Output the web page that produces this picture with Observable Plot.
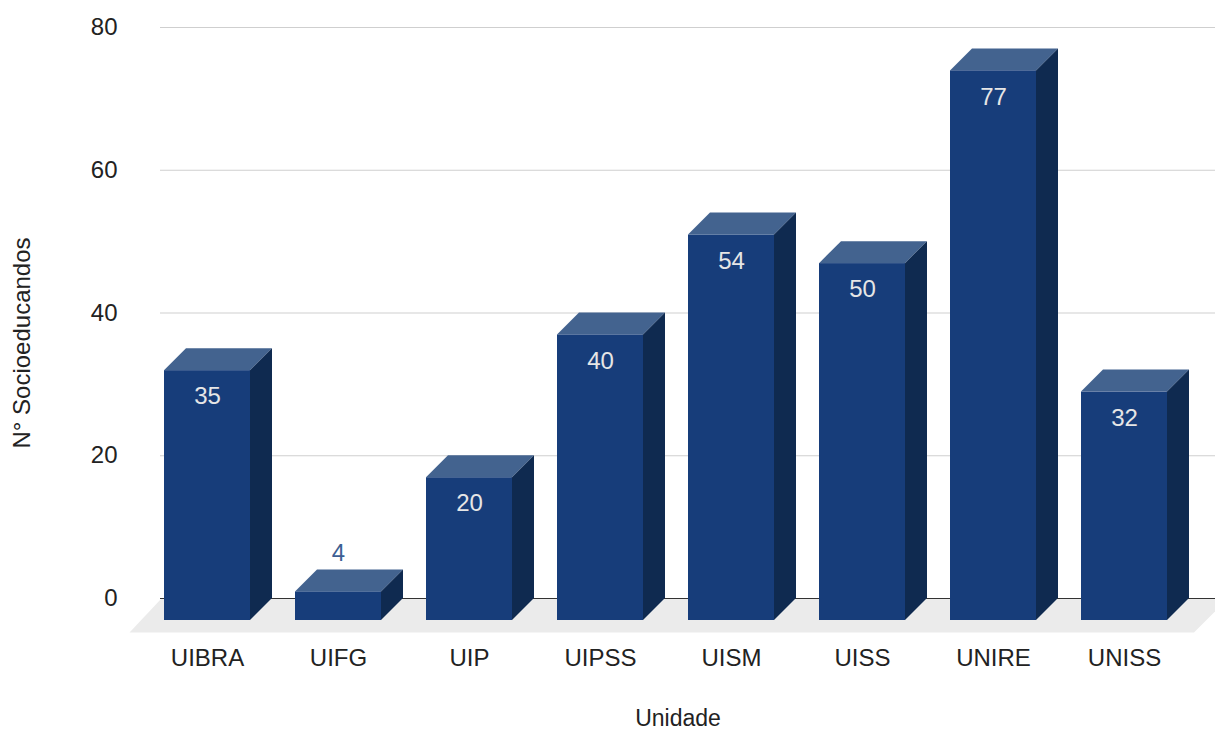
<!DOCTYPE html>
<html><head><meta charset="utf-8">
<script src="https://cdn.jsdelivr.net/npm/d3@7"></script>
<script src="https://cdn.jsdelivr.net/npm/@observablehq/plot@0.6"></script>
<style>body{margin:0;background:#fff}</style>
</head><body><div id="chart"></div>
<script>
const categories = ["UIBRA","UIFG","UIP","UIPSS","UISM","UISS","UNIRE","UNISS"];
const values = [35, 4, 20, 40, 54, 50, 77, 32];
const yTicks = [0, 20, 40, 60, 80];
const xTitle = "Unidade";
const yTitle = "N° Socioeducandos";

const data = categories.map((c, i) => ({cat: c, value: values[i]}));

const DEPTH = 22;
const FRONT = "#173d7a", TOP = "#43638f", SIDE = "#0f2a50";
const FONT = "'Liberation Sans', Arial, sans-serif";
const X_RANGE = [141.5, 1190];
const ns = "http://www.w3.org/2000/svg";

function poly(points, fill) {
  const p = document.createElementNS(ns, "polygon");
  p.setAttribute("points", points.map(d => d.join(",")).join(" "));
  p.setAttribute("fill", fill);
  p.setAttribute("stroke", "none");
  return p;
}

function bars3d(index, scales, vals, dims, ctx, next) {
  const g = next(index, scales, vals, dims, ctx);
  for (const r of Array.from(g.querySelectorAll("rect"))) {
    const x = +r.getAttribute("x"), y = +r.getAttribute("y");
    const w = +r.getAttribute("width"), h = +r.getAttribute("height");
    const parent = r.parentNode;
    parent.insertBefore(poly([[x, y + DEPTH], [x + w, y + DEPTH], [x + w + DEPTH, y], [x + DEPTH, y]], TOP), r);
    parent.insertBefore(poly([[x + w, y + DEPTH], [x + w + DEPTH, y], [x + w + DEPTH, y + h], [x + w, y + h + DEPTH]], SIDE), r);
    r.setAttribute("y", y + DEPTH);
  }
  return g;
}

function floorRender(index, scales, vals, dims, ctx, next) {
  const g = next(index, scales, vals, dims, ctx);
  const y0 = scales.y(0);
  const fl = poly([[X_RANGE[0] - 12, y0 + 34], [X_RANGE[0] + 20, y0], [X_RANGE[1] + 38, y0], [X_RANGE[1] + 4, y0 + 34]], "#ebebeb");
  g.insertBefore(fl, g.firstChild);
  return g;
}

const chart = Plot.plot({
  width: 1215,
  height: 731,
  marginTop: 27,
  marginBottom: 133,
  marginLeft: 160,
  marginRight: 0,
  style: {fontFamily: FONT, fontSize: "24px", color: "#222", background: "#fff"},
  x: {domain: categories, range: X_RANGE, paddingInner: 0.344, paddingOuter: 0.172, label: null},
  y: {domain: [0, 80], label: null},
  marks: [
    Plot.ruleY(yTicks.filter(d => d > 0), {stroke: "#cfcfcf", strokeWidth: 1.2}),
    Plot.ruleY([0], {stroke: "#333", render: floorRender}),
    Plot.axisY(yTicks, {tickSize: 0, tickPadding: 43, label: null, fill: "#222", fontSize: 24}),
    Plot.axisX({tickSize: 0, tickPadding: 50, label: null, fill: "#222", fontSize: 24}),
    Plot.barY(data, {x: "cat", y: "value", fill: FRONT, render: bars3d}),
    Plot.text(data.filter(d => d.value >= 10), {x: "cat", y: "value", text: d => String(d.value), dy: 48, fill: "#e6e6e6", fontSize: 24}),
    Plot.text(data.filter(d => d.value < 10), {x: "cat", y: "value", text: d => String(d.value), dy: -16.5, fill: "#3d5f94", fontSize: 24}),
    Plot.text([yTitle], {frameAnchor: "left", rotate: -90, dx: -138, dy: 30, textAnchor: "middle", fill: "#222", fontSize: 24}),
    Plot.text([xTitle], {frameAnchor: "bottom", dx: -10, dy: 120, lineAnchor: "middle", textAnchor: "middle", fill: "#222", fontSize: 23})
  ]
});
document.getElementById("chart").appendChild(chart);
</script>
</body></html>
